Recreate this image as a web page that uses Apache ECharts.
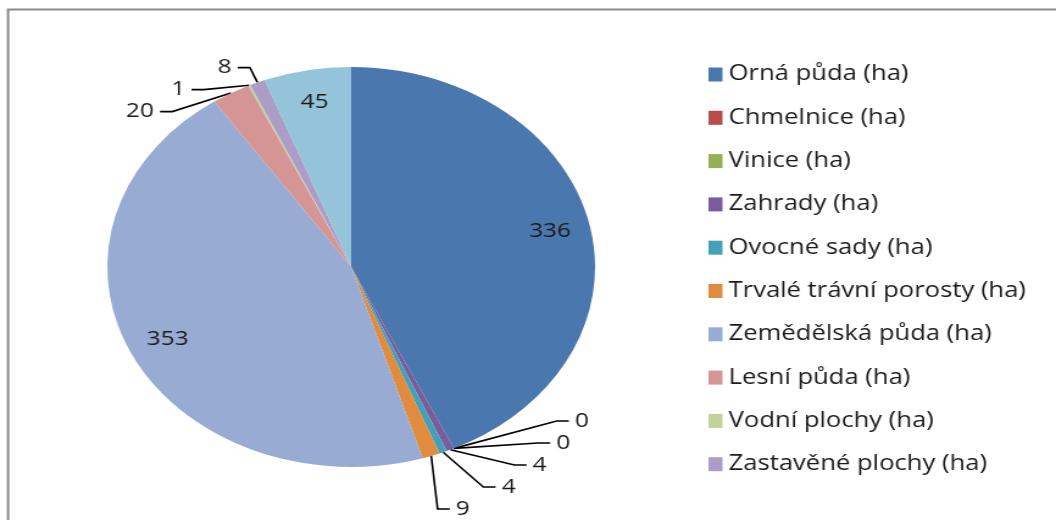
<!DOCTYPE html>
<html>
<head>
<meta charset="utf-8">
<script src="https://cdn.jsdelivr.net/npm/echarts@6/dist/echarts.min.js"></script>
<style>
  html, body { margin: 0; padding: 0; background: #fff; overflow: hidden; }
  #wrap { width: 1056px; height: 520px; overflow: hidden; position: relative; }
  #chart { width: 866px; height: 520px; transform: scaleX(1.2194); transform-origin: 0 0; }
</style>
</head>
<body>
<div id="wrap"><div id="chart"></div></div>
<script>
const categories = ['Orná půda (ha)', 'Chmelnice (ha)', 'Vinice (ha)', 'Zahrady (ha)', 'Ovocné sady (ha)',
  'Trvalé trávní porosty (ha)', 'Zemědělská půda (ha)', 'Lesní půda (ha)', 'Vodní plochy (ha)',
  'Zastavěné plochy (ha)', 'Ostatní plochy (ha)'];
const values = [336, 0, 0, 4, 4, 9, 353, 20, 1, 8, 45];
const legendNames = categories.slice(0, 10);
const colors = ['#4A78AE', '#B94C4A', '#93B054', '#7A5C9C', '#44A0B8', '#E08B3E',
  '#97ABD3', '#D49594', '#C0D39A', '#AC9DC6', '#93C4D9'];

const FONT = '"Open Sans", "DejaVu Sans", sans-serif';
const bigLimit = 40;

const chart = echarts.init(document.getElementById('chart'), null, { renderer: 'canvas' });

const mainData = categories.map((n, i) => ({
  name: n, value: values[i],
  itemStyle: { color: colors[i] },
  label: { show: values[i] < bigLimit },
  labelLine: { show: values[i] < bigLimit }
}));
const ringData = categories.map((n, i) => ({
  name: n, value: values[i],
  itemStyle: { color: 'rgba(0,0,0,0)' },
  label: { show: values[i] >= bigLimit }
}));

chart.setOption({
  animation: false,
  color: colors,
  graphic: [{
    type: 'rect', shape: { x: 6.6, y: 9.5, width: 900, height: 600 },
    style: { fill: 'none', stroke: '#8a8a8a', lineWidth: 2 }, silent: true
  }],
  legend: {
    orient: 'vertical', left: 576, top: 59,
    data: legendNames, icon: 'rect', itemWidth: 11.5, itemHeight: 14,
    itemGap: 22.3,
    textStyle: { fontFamily: FONT, fontSize: 21, color: '#1a1a1a', lineHeight: 20 }
  },
  series: [{
    type: 'pie', center: [288, 267], radius: 200, startAngle: 90, clockwise: true,
    data: mainData,
    label: { position: 'outside', fontFamily: FONT, fontSize: 20, color: '#1a1a1a', formatter: '{c}' },
    labelLine: { length: 16, length2: 10, lineStyle: { color: '#000', width: 1.6 } },
    emphasis: { disabled: true }
  }, {
    type: 'pie', center: [288, 267], radius: [128, 200], startAngle: 90, clockwise: true,
    data: ringData, silent: true,
    label: { position: 'inside', fontFamily: FONT, fontSize: 20, color: '#1a1a1a', formatter: '{c}' },
    labelLine: { show: false },
    emphasis: { disabled: true }
  }]
});
</script>
</body>
</html>
